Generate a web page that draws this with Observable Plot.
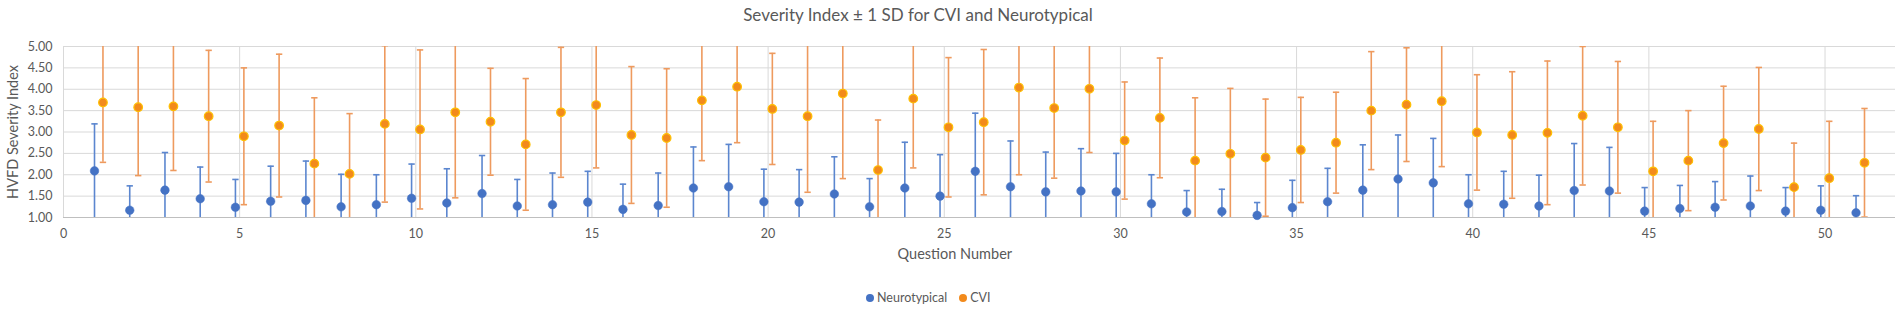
<!DOCTYPE html>
<html>
<head>
<meta charset="utf-8">
<script src="https://cdn.jsdelivr.net/npm/d3@7"></script>
<script src="https://cdn.jsdelivr.net/npm/@observablehq/plot@0.6"></script>
<style>
  html, body { margin: 0; padding: 0; background: #fff; }
  body { width: 1902px; height: 311px; position: relative; overflow: hidden; font-family: Lato, "Open Sans", sans-serif; color: #595959; }
  #title { position: absolute; top: 4px; left: 918px; transform: translateX(-50%); font-size: 17px; white-space: nowrap; color: #595959; }
  #chart { position: absolute; top: 30px; left: 0; }
  #legend { position: absolute; top: 290px; left: 866px; font-size: 12.5px; line-height: 16px; white-space: nowrap; display: flex; align-items: center; }
  #legend .sw { display: inline-block; width: 8px; height: 8px; border-radius: 50%; margin-right: 3px; }
  #legend .item { display: flex; align-items: center; margin-right: 12px; }
</style>
</head>
<body>
<div id="title">Severity Index ± 1 SD for CVI and Neurotypical</div>
<div id="chart"></div>
<div id="legend">
  <span class="item"><span class="sw" style="background:#4472C4"></span>Neurotypical</span>
  <span class="item"><span class="sw" style="background:#F28A1C"></span>CVI</span>
</div>
<script>
const questions = d3.range(1, 52);
const ntMean = [2.09,1.17,1.64,1.44,1.24,1.38,1.40,1.25,1.30,1.45,1.34,1.56,1.27,1.30,1.36,1.19,1.28,1.69,1.72,1.37,1.36,1.55,1.25,1.69,1.50,2.08,1.72,1.60,1.62,1.60,1.32,1.13,1.14,1.05,1.23,1.37,1.64,1.90,1.81,1.32,1.31,1.27,1.63,1.62,1.15,1.21,1.24,1.27,1.15,1.17,1.11];
const ntSD   = [1.10,0.57,0.88,0.74,0.65,0.82,0.92,0.76,0.70,0.80,0.80,0.89,0.62,0.74,0.72,0.59,0.76,0.96,0.99,0.76,0.76,0.87,0.66,1.07,0.97,1.36,1.07,0.93,0.99,0.90,0.68,0.50,0.52,0.30,0.64,0.78,1.06,1.03,1.04,0.68,0.77,0.72,1.10,1.02,0.55,0.54,0.60,0.70,0.55,0.57,0.40];
const cviMean = [3.69,3.58,3.60,3.37,2.90,3.15,2.26,2.02,3.19,3.06,3.46,3.24,2.71,3.46,3.63,2.93,2.86,3.74,4.06,3.54,3.37,3.90,2.11,3.78,3.11,3.23,4.04,3.56,4.01,2.80,3.33,2.33,2.49,2.40,2.58,2.75,3.50,3.64,3.72,2.99,2.93,2.98,3.38,3.11,2.08,2.33,2.74,3.07,1.71,1.92,2.28];
const cviSD   = [1.40,1.60,1.50,1.54,1.60,1.67,1.54,1.41,1.83,1.86,2.00,1.25,1.54,1.52,1.47,1.60,1.62,1.41,1.31,1.30,1.78,1.99,1.17,1.62,1.63,1.70,2.04,1.64,1.49,1.37,1.40,1.47,1.53,1.37,1.23,1.18,1.38,1.33,1.53,1.35,1.48,1.68,1.62,1.54,1.17,1.17,1.33,1.44,1.03,1.33,1.27];
const seriesNames = ["Neurotypical", "CVI"];
const yTicks = [1, 1.5, 2, 2.5, 3, 3.5, 4, 4.5, 5];
const xTicks = [0, 5, 10, 15, 20, 25, 30, 35, 40, 45, 50];

const offsets = {Neurotypical: -0.12, CVI: 0.12};
const data = [];
questions.forEach((q, i) => {
  data.push({series: "Neurotypical", q, x: q + offsets.Neurotypical, mean: ntMean[i], sd: ntSD[i]});
  data.push({series: "CVI", q, x: q + offsets.CVI, mean: cviMean[i], sd: cviSD[i]});
});
const nt = data.filter(d => d.series === "Neurotypical");
const cvi = data.filter(d => d.series === "CVI");
const capW = 0.09;
const lo = d => Math.max(1, d.mean - d.sd);
const hi = d => Math.min(5, d.mean + d.sd);
const barColor = {Neurotypical: "#5B86CF", CVI: "#EE9A5E"};

const chart = Plot.plot({
  width: 1902,
  height: 250,
  marginLeft: 63,
  marginRight: 7,
  marginTop: 16,
  marginBottom: 63,
  style: {fontFamily: "Lato, 'Open Sans', sans-serif", fontSize: "12.5px", color: "#595959", background: "white", overflow: "visible"},
  x: {domain: [0, 52]},
  y: {domain: [1, 5]},
  marks: [
    Plot.gridY(yTicks, {stroke: "#d9d9d9", strokeOpacity: 1, strokeWidth: 1}),
    Plot.gridX(xTicks, {stroke: "#d9d9d9", strokeOpacity: 1, strokeWidth: 1}),
    Plot.ruleY([1], {stroke: "#bfbfbf", strokeWidth: 1.2}),
    Plot.axisY(yTicks, {tickFormat: d3.format(".2f"), tickSize: 0, tickPadding: 11, label: null, fontSize: 12.5}),
    Plot.axisX(xTicks, {tickSize: 0, tickPadding: 12, label: null, fontSize: 12.5}),
    // error bars
    Plot.ruleX(data, {x: "x", y1: lo, y2: hi, stroke: d => barColor[d.series], strokeWidth: 1.6}),
    Plot.link(data, {x1: d => d.x - capW, x2: d => d.x + capW, y1: d => d.mean + d.sd, y2: d => d.mean + d.sd, stroke: d => barColor[d.series], strokeWidth: 1.6, clip: true}),
    Plot.link(data, {x1: d => d.x - capW, x2: d => d.x + capW, y1: d => d.mean - d.sd, y2: d => d.mean - d.sd, stroke: d => barColor[d.series], strokeWidth: 1.6, clip: true}),
    // points
    Plot.dot(nt, {x: "x", y: "mean", r: 4.3, fill: "#4472C4", stroke: "#4472C4", strokeWidth: 0.5}),
    Plot.dot(cvi, {x: "x", y: "mean", r: 4.3, fill: "#F28A1C", stroke: "#FFC000", strokeWidth: 1.2}),
    Plot.text(["Question Number"], {frameAnchor: "bottom", x: 25.3, dy: 41, fontSize: 14.5, fill: "#595959"}),
    Plot.text(["HVFD Severity Index"], {frameAnchor: "left", textAnchor: "middle", dx: -50, rotate: -90, fontSize: 14.5, fill: "#595959"})
  ]
});
chart.style.display = "block";
document.getElementById("chart").appendChild(chart);
</script>
</body>
</html>
